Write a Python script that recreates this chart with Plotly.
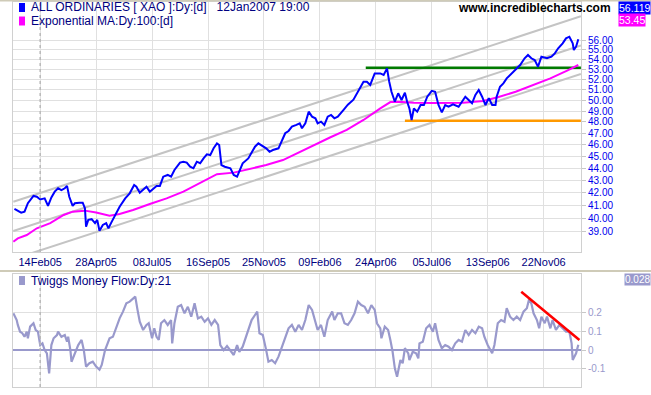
import math
import plotly.graph_objects as go

# ---------------- data ----------------
# x = trading-day number since start of chart
day = [1, 7, 10, 13, 18, 21, 24, 28, 31, 34, 37, 40, 43, 46, 48, 50, 53, 55, 59, 62,
       64, 65, 67, 70, 73, 75, 77, 80, 83, 85, 88, 91, 95, 100, 104, 108, 110, 113, 116, 119,
       122, 125, 128, 131, 134, 138, 141, 144, 149, 152, 155, 158, 161, 164, 167, 170, 173, 176, 179, 182,
       184, 186, 189, 194, 197, 200, 202, 205, 210, 213, 216, 219, 223, 226, 229, 232, 237, 240, 243, 246,
       249, 253, 256, 258, 261, 264, 267, 270, 272, 275, 278, 281, 284, 287, 290, 295, 299, 304, 308, 313,
       316, 319, 323, 328, 331, 334, 336, 338, 341, 344, 347, 350, 352, 354, 356, 358, 361, 364, 367, 370,
       374, 377, 380, 383, 386, 389, 393, 398, 401, 404, 407, 410, 413, 416, 419, 422, 425, 428, 431, 432,
       435, 438, 441, 444, 448, 453, 457, 460, 463, 466, 469, 472, 477, 481, 484, 487, 491, 494, 497, 500,
       501, 503, 505]
close = [40.73, 40.45, 40.52, 41.17, 41.74, 41.68, 41.47, 41.55, 40.96, 41.63, 42.08, 42.35, 42.21, 42.35, 42.54, 41.68, 40.96, 41.17, 41.21, 41.21,
         40.78, 39.39, 39.90, 39.95, 39.65, 39.90, 39.09, 39.52, 39.65, 39.27, 39.77, 40.27, 40.90, 41.55, 41.95, 42.61, 42.48, 42.00, 42.21, 42.48,
         42.08, 42.35, 42.54, 42.54, 43.29, 43.43, 43.29, 43.84, 44.45, 44.53, 44.45, 44.12, 43.98, 44.53, 44.40, 44.81, 45.15, 45.09, 45.67, 46.10,
         45.95, 44.25, 44.11, 43.98, 43.43, 43.29, 43.70, 44.40, 44.81, 45.37, 45.81, 46.10, 45.81, 45.67, 45.37, 45.52, 45.67, 46.39, 46.99, 47.19,
         47.58, 47.73, 47.88, 47.43, 47.88, 48.94, 48.48, 48.33, 47.88, 48.03, 47.73, 48.48, 48.64, 48.33, 48.48, 49.09, 49.59, 50.06, 50.82, 51.79,
         51.79, 51.47, 52.61, 52.61, 52.45, 53.11, 51.79, 50.82, 49.87, 50.67, 50.03, 50.73, 49.87, 49.25, 48.18, 49.25, 48.94, 49.56, 49.56, 50.34,
         50.91, 50.82, 49.56, 48.88, 49.56, 49.40, 49.63, 49.40, 49.87, 50.34, 50.03, 49.72, 50.51, 50.98, 50.34, 49.56, 50.19, 49.56, 49.56, 50.34,
         51.30, 51.63, 52.12, 52.45, 52.94, 53.45, 54.13, 54.47, 54.13, 53.95, 53.28, 54.29, 54.13, 54.29, 54.64, 55.16, 55.68, 56.21, 56.38, 55.68,
         54.98, 55.33, 56.119]

ma_day = [0, 4, 12, 21, 33, 45, 53, 64, 74, 86, 95, 107, 122, 137, 152, 167, 182, 197, 211, 226,
          241, 256, 271, 283, 298, 313, 328, 337, 344, 358, 375, 387, 402, 420, 433, 449, 465, 480, 495, 505]
ma = [38.29, 38.53, 38.77, 39.27, 39.65, 40.27, 40.52, 40.60, 40.45, 40.22, 40.35, 40.65, 41.11, 41.55, 42.08, 42.75, 43.49, 43.62, 43.90, 44.25,
      44.67, 45.37, 46.10, 46.61, 47.28, 48.18, 49.25, 49.84, 49.87, 49.78, 49.75, 49.78, 49.78, 49.94, 50.29, 50.82, 51.47, 52.12, 52.89, 53.45]

tmf_day = [0, 3, 4, 6, 8, 10, 12, 13, 15, 18, 20, 22, 24, 26, 28, 30, 32, 34, 36, 39,
           40, 43, 46, 48, 49, 51, 52, 54, 56, 58, 61, 63, 65, 68, 71, 74, 77, 79, 82, 84,
           86, 89, 92, 95, 98, 101, 104, 107, 109, 111, 113, 116, 119, 121, 124, 126, 128, 130, 132, 135,
           138, 141, 142, 144, 147, 150, 153, 156, 159, 162, 165, 168, 171, 174, 177, 180, 183, 185, 188, 191,
           194, 197, 200, 202, 205, 208, 210, 213, 216, 218, 220, 223, 226, 228, 231, 234, 237, 240, 243, 246,
           249, 252, 255, 258, 261, 264, 267, 270, 272, 275, 278, 281, 285, 287, 290, 293, 296, 299, 302, 305,
           308, 311, 314, 317, 320, 323, 325, 328, 329, 332, 335, 337, 339, 341, 343, 346, 348, 350, 353, 354,
           357, 360, 362, 363, 366, 369, 372, 375, 377, 380, 383, 386, 389, 392, 395, 398, 401, 404, 407, 410,
           413, 416, 419, 421, 424, 428, 430, 433, 436, 439, 441, 444, 447, 450, 453, 456, 459, 461, 463, 465,
           468, 470, 472, 475, 477, 480, 482, 485, 488, 491, 494, 497, 499, 500, 503, 505]
tmf = [0.196, 0.160, 0.134, 0.098, 0.090, 0.071, 0.098, 0.063, 0.125, 0.143, 0.107, 0.098, 0.027, 0.036, 0.000, -0.017, -0.124, 0.027, 0.063, 0.080,
       0.098, 0.071, 0.080, 0.045, 0.071, 0.000, -0.062, -0.035, 0.000, 0.027, 0.054, 0.000, -0.088, -0.070, -0.062, -0.088, -0.104, -0.079, 0.000, 0.027,
       0.063, 0.071, 0.125, 0.169, 0.205, 0.249, 0.258, 0.276, 0.285, 0.214, 0.151, 0.107, 0.134, 0.143, 0.063, 0.116, 0.071, 0.054, 0.143, 0.160,
       0.134, 0.160, 0.036, 0.143, 0.231, 0.240, 0.196, 0.231, 0.178, 0.249, 0.169, 0.178, 0.151, 0.169, 0.134, 0.160, 0.134, 0.027, 0.000, 0.022,
       0.000, -0.026, 0.027, -0.009, 0.018, 0.071, 0.098, 0.160, 0.187, 0.205, 0.090, 0.080, 0.000, -0.062, -0.053, -0.070, -0.035, 0.018, 0.071, 0.116,
       0.134, 0.098, 0.134, 0.107, 0.160, 0.240, 0.214, 0.143, 0.107, 0.134, 0.071, 0.160, 0.205, 0.160, 0.196, 0.196, 0.143, 0.134, 0.160, 0.196,
       0.258, 0.240, 0.231, 0.196, 0.240, 0.214, 0.143, 0.116, 0.063, 0.125, 0.107, 0.054, -0.009, -0.097, -0.142, -0.053, -0.070, 0.010, -0.017, -0.053,
       -0.009, -0.017, -0.044, 0.036, 0.045, 0.116, 0.134, 0.098, 0.143, 0.054, 0.010, 0.027, 0.018, 0.000, 0.036, 0.054, 0.045, 0.107, 0.080, 0.107,
       0.090, 0.125, 0.116, 0.071, 0.027, -0.017, 0.027, 0.143, 0.160, 0.151, 0.223, 0.178, 0.160, 0.178, 0.160, 0.205, 0.223, 0.271, 0.249, 0.196,
       0.160, 0.116, 0.178, 0.143, 0.178, 0.116, 0.160, 0.107, 0.134, 0.116, 0.098, 0.098, 0.036, -0.053, -0.017, 0.028]

tick_days = [24, 74, 124, 174, 224, 274, 324, 374, 424, 474]
tick_labels = ["14Feb05", "28Apr05", "08Jul05", "16Sep05", "25Nov05",
               "09Feb06", "24Apr06", "05Jul06", "13Sep06", "22Nov06"]
price_ticks = list(range(39, 57))
tmf_ticks = [-0.1, 0, 0.1, 0.2]
tmf_tick_labels = ["-0.1", "0", "0.1", "0.2"]

channel_days = [0, 507.3]
channel_upper = [41.29, 58.60]
channel_mid = [39.07, 55.45]
channel_lower = [37.05, 52.55]
resist_days = [315, 507.3]
resist = [53.17, 53.17]
support_days = [350, 507.3]
support = [48.12, 48.12]
tmf_trend_days = [454, 506]
tmf_trend = [0.311, 0.054]

last_close = "56.119"
last_ma = "53.45"
last_tmf = "0.028"

# ---------------- layout geometry ----------------
W, H = 651, 395
ML, MR, MT, MB = 13, 70, 2, 8
PW, PH = W - ML - MR, H - MT - MB


def px(x):
    return (x - ML) / PW


def py(y):
    return (H - MB - y) / PH


FONT = "Arial, Liberation Sans, sans-serif"
NAVY = "#000080"
GRID = "#e0e0e0"
AXL = "#d0d0d0"

fig = go.Figure()

line_common = dict(mode="lines", hoverinfo="skip", showlegend=False)
for yv in (channel_upper, channel_mid, channel_lower):
    fig.add_trace(go.Scatter(x=channel_days, y=yv, line=dict(color="#c4c4c4", width=2),
                             xaxis="x", yaxis="y", **line_common))
fig.add_trace(go.Scatter(x=resist_days, y=resist, line=dict(color="#007a00", width=2.5),
                         xaxis="x", yaxis="y", **line_common))
fig.add_trace(go.Scatter(x=support_days, y=support, line=dict(color="#ff9900", width=2.5),
                         xaxis="x", yaxis="y", **line_common))
fig.add_trace(go.Scatter(x=ma_day, y=ma, line=dict(color="#ff00ff", width=2),
                         xaxis="x", yaxis="y", **line_common))
fig.add_trace(go.Scatter(x=day, y=close, line=dict(color="#0000ff", width=2),
                         xaxis="x", yaxis="y", **line_common))

fig.add_trace(go.Scatter(x=tmf_day, y=tmf, line=dict(color="#9999cc", width=2.2),
                         xaxis="x2", yaxis="y2", **line_common))
fig.add_trace(go.Scatter(x=tmf_trend_days, y=tmf_trend, line=dict(color="#ff0000", width=2.5),
                         xaxis="x2", yaxis="y2", **line_common))

top_dom = [py(252), 1]
bot_dom = [0, py(274)]
xr = [-0.3, 507.4]

fig.update_layout(
    width=W, height=H,
    margin=dict(l=ML, r=MR, t=MT, b=MB),
    paper_bgcolor="white", plot_bgcolor="white",
    showlegend=False,
    font=dict(family=FONT, size=11, color=NAVY),
    xaxis=dict(domain=[0, 1], anchor="y", range=xr, tickmode="array",
               tickvals=tick_days, ticktext=tick_labels, showgrid=True, gridcolor=GRID,
               showline=True, linecolor=AXL, mirror=True, ticks="", zeroline=False,
               tickfont=dict(size=11, color=NAVY, family=FONT)),
    yaxis=dict(domain=top_dom, anchor="x", type="log",
               range=[math.log10(37.55), math.log10(60.2)], side="right",
               tickmode="array", tickvals=price_ticks,
               ticktext=["%.2f" % v for v in price_ticks],
               showgrid=True, gridcolor=GRID, showline=True, linecolor=AXL, mirror=True,
               ticks="outside", ticklen=4, tickcolor="#c8c8c8", zeroline=False,
               tickfont=dict(size=10, color="#0000ee", family=FONT)),
    xaxis2=dict(domain=[0, 1], anchor="y2", range=xr, matches="x", tickmode="array",
                tickvals=tick_days, showticklabels=False, showgrid=True, gridcolor=GRID,
                showline=True, linecolor=AXL, mirror=True, ticks="", zeroline=False),
    yaxis2=dict(domain=bot_dom, anchor="x2", range=[-0.1966, 0.4054], side="right",
                tickmode="array", tickvals=tmf_ticks, ticktext=tmf_tick_labels,
                showgrid=True, gridcolor=GRID, showline=True, linecolor=AXL, mirror=True,
                ticks="outside", ticklen=4, tickcolor="#c8c8c8",
                zeroline=True, zerolinecolor="#9999cc", zerolinewidth=1.5,
                tickfont=dict(size=10, color="#9999cc", family=FONT)),
)

shapes = []
# frame separators
for yy in (0.5, 271):
    shapes.append(dict(type="line", xref="paper", yref="paper", x0=px(0), x1=px(W),
                       y0=py(yy), y1=py(yy), line=dict(color="#cfcbb8", width=2)))
# dotted first-tick line in both panels
for yr in ("y domain", "y2 domain"):
    shapes.append(dict(type="line", xref="x", yref=yr, x0=tick_days[0], x1=tick_days[0],
                       y0=0, y1=1, line=dict(color="#b8b8b8", width=1.5, dash="dot")))
# legend swatches
for (y0, y1, c) in ((3, 12, "#0000ff"), (16.5, 25.5, "#ff00ff"), (276, 285, "#9999cc")):
    shapes.append(dict(type="rect", xref="paper", yref="paper", x0=px(19), x1=px(25),
                       y0=py(y1), y1=py(y0), fillcolor=c, line=dict(width=0)))
fig.update_layout(shapes=shapes)

ann = []
ann.append(dict(text="ALL ORDINARIES [ XAO ]:Dy:[d]\u00a0\u00a0 12Jan2007 19:00",
                x=px(29), y=py(7.5), xanchor="left", yanchor="middle"))
ann.append(dict(text="Exponential MA:Dy:100:[d]", x=px(29), y=py(21), xanchor="left", yanchor="middle"))
ann.append(dict(text="Twiggs Money Flow:Dy:21", x=px(29), y=py(281), xanchor="left", yanchor="middle"))
ann.append(dict(text="<b>www.incrediblecharts.com</b>", x=px(613), y=py(8), xanchor="right",
                yanchor="middle", font=dict(size=12, color="black", family=FONT)))
ann.append(dict(text=last_close, x=px(618), y=py(8), xanchor="left", yanchor="middle",
                bgcolor="#0000ff", borderpad=0, font=dict(size=10.5, color="white", family=FONT)))
ann.append(dict(text=last_ma, x=px(618), y=py(20.5), xanchor="left", yanchor="middle",
                bgcolor="#ff00ff", borderpad=0, font=dict(size=10.5, color="white", family=FONT)))
ann.append(dict(text=last_tmf, x=px(624), y=py(279.5), xanchor="left", yanchor="middle",
                bgcolor="#9999cc", borderpad=0, font=dict(size=10, color="white", family=FONT)))
for a in ann:
    a.setdefault("xref", "paper")
    a.setdefault("yref", "paper")
    a.setdefault("showarrow", False)
    a.setdefault("font", dict(size=12, color=NAVY, family=FONT))
fig.update_layout(annotations=ann)

fig.write_html("out.html", config={"displayModeBar": False, "staticPlot": True},
               post_script="document.body.style.margin='0';document.body.style.overflow='hidden';")
